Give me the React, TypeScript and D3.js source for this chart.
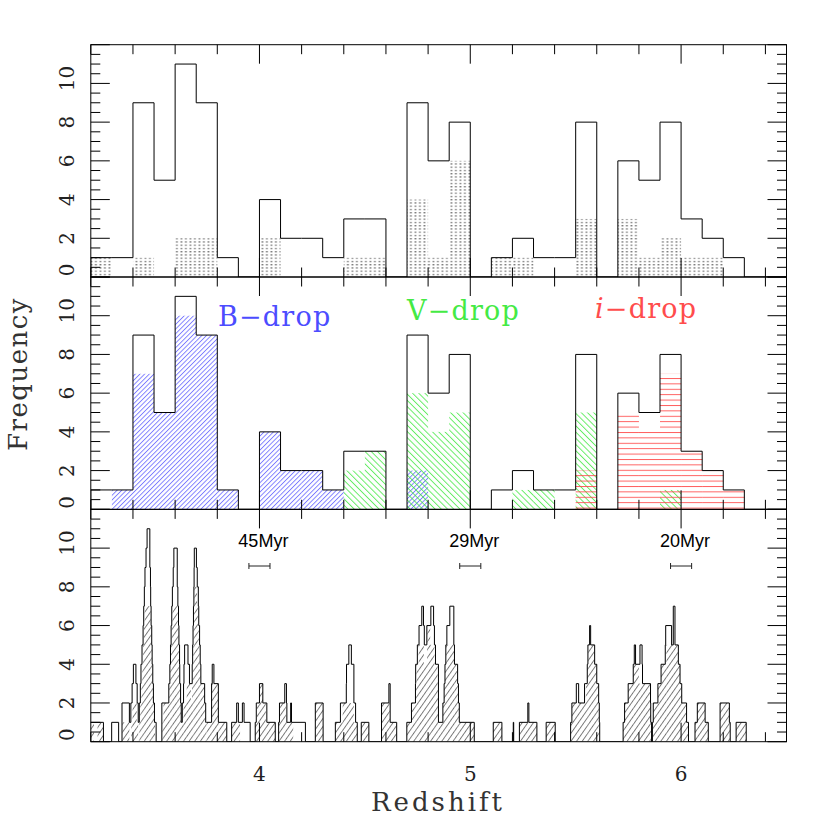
import React from 'react';
import * as d3 from 'd3';

// ---------- DATA ----------
const BIN_START = 3.2;
const BIN_WIDTH = 0.1;
// total counts per 0.1 bin starting at z = 3.2
const totalCounts = [1, 1, 9, 5, 11, 9, 1, 0, 4, 2, 2, 1, 3, 3, 0, 9, 6, 8, 0, 1, 2, 1, 1, 8, 0, 6, 5, 8, 3, 2, 1, 0, 0];
const dottedCounts = [1, 0, 1, 0, 2, 2, 0, 0, 2, 0, 0, 0, 1, 1, 0, 4, 1, 6, 0, 1, 1, 0, 0, 3, 0, 3, 1, 2, 1, 1, 0, 0, 0];
const bDropCounts = [0, 1, 7, 5, 10, 9, 1, 0, 4, 2, 2, 1, 0, 0, 0, 2, 0, 0, 0, 0, 0, 0, 0, 0, 0, 0, 0, 0, 0, 0, 0, 0, 0];
const vDropCounts = [0, 0, 0, 0, 0, 0, 0, 0, 0, 0, 0, 0, 2, 3, 0, 6, 4, 5, 0, 0, 1, 1, 0, 5, 0, 0, 0, 1, 0, 0, 0, 0, 0];
const iDropCounts = [0, 0, 0, 0, 0, 0, 0, 0, 0, 0, 0, 0, 0, 0, 0, 0, 0, 0, 0, 0, 0, 0, 0, 2, 0, 5, 4, 7, 3, 2, 1, 0, 0];

// bottom panel: each band [z0, z1] adds one count over its range
const bottomTotalBands: [number, number][] = [
  [3.19, 3.26], [3.299, 3.332],
  [3.348, 3.51], [3.348, 3.383], [3.39, 3.425], [3.396, 3.42], [3.402, 3.414],
  [3.43, 3.502], [3.435, 3.497], [3.438, 3.494], [3.443, 3.491], [3.448, 3.489],
  [3.451, 3.486], [3.454, 3.484], [3.457, 3.483], [3.462, 3.48], [3.467, 3.48],
  [3.537, 3.749], [3.537, 3.629], [3.634, 3.745], [3.57, 3.626], [3.64, 3.74],
  [3.575, 3.622], [3.642, 3.668], [3.681, 3.722], [3.578, 3.621], [3.645, 3.661], [3.683, 3.719],
  [3.581, 3.618], [3.685, 3.716], [3.584, 3.616], [3.687, 3.712], [3.587, 3.613], [3.689, 3.71],
  [3.591, 3.61], [3.69, 3.705], [3.594, 3.61], [3.691, 3.701],
  [3.749, 3.845], [3.773, 3.805], [3.773, 3.805], [3.776, 3.784],
  [3.868, 3.956], [3.892, 3.9], [3.919, 3.927],
  [3.98, 4.075], [3.985, 4.035], [4.0, 4.016],
  [4.091, 4.218], [4.095, 4.13], [4.12, 4.128], [4.148, 4.152],
  [4.265, 4.302], [4.265, 4.302],
  [4.36, 4.464], [4.384, 4.456], [4.412, 4.448], [4.413, 4.448], [4.424, 4.436],
  [4.483, 4.519],
  [4.579, 4.651], [4.579, 4.62], [4.614, 4.62],
  [4.699, 5.019], [4.721, 4.849], [4.87, 4.948], [4.74, 4.849], [4.876, 4.944],
  [4.741, 4.849], [4.88, 4.94], [4.749, 4.835], [4.884, 4.925],
  [4.757, 4.782], [4.794, 4.83], [4.889, 4.922], [4.77, 4.778], [4.813, 4.826], [4.903, 4.922],
  [5.109, 5.15], [5.204, 5.206], [5.233, 5.316], [5.273, 5.278], [5.36, 5.403],
  [5.476, 5.614], [5.482, 5.612], [5.503, 5.514], [5.542, 5.609], [5.555, 5.6], [5.558, 5.59], [5.566, 5.571],
  [5.725, 5.86], [5.732, 5.856], [5.749, 5.855], [5.773, 5.817], [5.778, 5.784], [5.805, 5.815],
  [5.864, 6.035], [5.868, 6.026], [5.89, 6.003], [5.905, 5.995], [5.925, 5.987],
  [5.927, 5.955], [5.963, 5.971], [5.963, 5.971],
  [6.066, 6.129], [6.077, 6.114],
  [6.185, 6.233], [6.185, 6.229],
  [6.261, 6.309],
];
const bottomHatchBands: [number, number][] = [
  [3.197, 3.215], [3.232, 3.259],
  [3.35, 3.383], [3.392, 3.425], [3.398, 3.418],
  [3.43, 3.505], [3.435, 3.5], [3.44, 3.495], [3.445, 3.492], [3.448, 3.489], [3.452, 3.487], [3.456, 3.484],
  [3.54, 3.632], [3.545, 3.628], [3.572, 3.625], [3.577, 3.621], [3.58, 3.619], [3.584, 3.616], [3.588, 3.612],
  [3.632, 3.68], [3.64, 3.68], [3.655, 3.675],
  [3.68, 3.749], [3.68, 3.745], [3.68, 3.74], [3.683, 3.72], [3.686, 3.716], [3.688, 3.712], [3.69, 3.708], [3.692, 3.704],
  [3.751, 3.845], [3.773, 3.805], [3.773, 3.805],
  [3.868, 3.908],
  [3.98, 4.075], [3.988, 4.03], [4.0, 4.016],
  [4.091, 4.16], [4.095, 4.125],
  [4.265, 4.302], [4.265, 4.302],
  [4.36, 4.464], [4.395, 4.448],
  [4.483, 4.519],
  [4.579, 4.651], [4.579, 4.618],
  [4.699, 5.019], [4.721, 4.849], [4.87, 4.948], [4.74, 4.849], [4.876, 4.944],
  [4.745, 4.845], [4.88, 4.94], [4.755, 4.78], [4.795, 4.83], [4.886, 4.924], [4.797, 4.81],
  [5.109, 5.15], [5.233, 5.316], [5.36, 5.403],
  [5.476, 5.614], [5.482, 5.612], [5.548, 5.608], [5.556, 5.6], [5.56, 5.588],
  [5.725, 5.86], [5.732, 5.856], [5.749, 5.855], [5.773, 5.8],
  [5.864, 6.035], [5.868, 6.026], [5.89, 6.003], [5.905, 5.995], [5.93, 5.985],
  [6.066, 6.129], [6.077, 6.114],
  [6.185, 6.233], [6.185, 6.229],
  [6.261, 6.309],
];

const yTickLabels = [0, 2, 4, 6, 8, 10];
const xTickLabels = [4, 5, 6];
const ageLabels = ['45Myr', '29Myr', '20Myr'];
const ageCenters = [4.0, 5.0, 6.0];
const ageHalfWidth = 0.05;
const dropLabels = ['B\u2212drop', 'V\u2212drop', 'i\u2212drop'];

// ---------- LAYOUT ----------
const X0 = 90.8;
const X1 = 786.5;
const PANEL_TOPS = [44.7, 277.0, 509.4];
const PANEL_H = 232.3;
const MAJOR = 19;
const MINOR = 9.5;
const SERIF = '"DejaVu Serif", serif';

const x = d3.scaleLinear().domain([3.2, 6.5]).range([X0, X1]);
const yScale = (top: number) => d3.scaleLinear().domain([0, 12]).range([top + PANEL_H, top]);

function binStepPath(counts: number[], y: d3.ScaleLinear<number, number>) {
  const p = d3.path();
  p.moveTo(x(BIN_START), y(0));
  counts.forEach((c, i) => {
    const z0 = BIN_START + i * BIN_WIDTH;
    p.lineTo(x(z0), y(c));
    p.lineTo(x(z0 + BIN_WIDTH), y(c));
  });
  p.lineTo(x(BIN_START + counts.length * BIN_WIDTH), y(0));
  return p.toString();
}

function bandsToSteps(bands: [number, number][]) {
  const edges = Array.from(new Set(bands.flat())).sort((a, b) => a - b);
  const steps: [number, number, number][] = [];
  for (let i = 0; i < edges.length - 1; i++) {
    const a = edges[i], b = edges[i + 1], m = (a + b) / 2;
    const c = bands.filter(([s, e]) => s < m && e > m).length;
    steps.push([a, b, c]);
  }
  return steps;
}

function stepsPath(steps: [number, number, number][], y: d3.ScaleLinear<number, number>) {
  const p = d3.path();
  p.moveTo(x(steps[0][0]), y(0));
  steps.forEach(([a, b, c]) => {
    p.lineTo(x(a), y(c));
    p.lineTo(x(b), y(c));
  });
  p.lineTo(x(steps[steps.length - 1][1]), y(0));
  return p.toString();
}

function BinRects({ counts, y, fill }: { counts: number[]; y: d3.ScaleLinear<number, number>; fill: string }) {
  return (
    <g>
      {counts.map((c, i) =>
        c > 0 ? (
          <rect
            key={i}
            x={x(BIN_START + i * BIN_WIDTH)}
            y={y(c)}
            width={x(BIN_START + (i + 1) * BIN_WIDTH) - x(BIN_START + i * BIN_WIDTH)}
            height={y(0) - y(c)}
            fill={fill}
          />
        ) : null
      )}
    </g>
  );
}

function Frame({ top }: { top: number }) {
  const y = yScale(top);
  const bottom = top + PANEL_H;
  const xMinor = d3.range(3.2, 6.5001, 0.2).map((v) => +v.toFixed(2));
  const yMinor = d3.range(0, 12.001, 0.5);
  const lines: JSX.Element[] = [];
  xMinor.forEach((v, i) => {
    const isMajor = Math.abs(v - Math.round(v)) < 1e-6;
    const len = isMajor ? MAJOR : MINOR;
    const xx = x(v);
    lines.push(<line key={'xb' + i} x1={xx} x2={xx} y1={bottom} y2={bottom - len} />);
    lines.push(<line key={'xt' + i} x1={xx} x2={xx} y1={top} y2={top + len} />);
  });
  yMinor.forEach((v, i) => {
    const isMajor = v % 2 === 0;
    const len = isMajor ? MAJOR : MINOR;
    const yy = y(v);
    lines.push(<line key={'yl' + i} x1={X0} x2={X0 + len} y1={yy} y2={yy} />);
    lines.push(<line key={'yr' + i} x1={X1} x2={X1 - len} y1={yy} y2={yy} />);
  });
  return (
    <g stroke="#000" strokeWidth={1} fill="none">
      <rect x={X0} y={top} width={X1 - X0} height={PANEL_H} />
      {lines}
    </g>
  );
}

function YLabels({ top }: { top: number }) {
  const y = yScale(top);
  return (
    <g fontFamily={SERIF} fontSize={20} fill="#222">
      {yTickLabels.map((v) => {
        const yy = y(v) - (v === 0 ? 7 : v === 10 ? 5 : 0);
        return (
          <text key={v} transform={`translate(74,${yy}) rotate(-90)`} textAnchor="middle">
            {v}
          </text>
        );
      })}
    </g>
  );
}

export default function App() {
  const yTop = yScale(PANEL_TOPS[0]);
  const yMid = yScale(PANEL_TOPS[1]);
  const yBot = yScale(PANEL_TOPS[2]);
  const totalSteps = bandsToSteps(bottomTotalBands);
  const hatchSteps = bandsToSteps(bottomHatchBands);

  return (
    <svg
      width={830}
      height={830}
      style={{ position: 'absolute', left: 0, top: 0, background: '#fff' }}
      xmlns="http://www.w3.org/2000/svg"
    >
      <defs>
        <pattern id="dots" patternUnits="userSpaceOnUse" width={4.5} height={3.25}>
          <rect x={0.5} y={1} width={1.8} height={1} fill="#4a4a4a" />
        </pattern>
        <pattern id="bhatch" patternUnits="userSpaceOnUse" width={3.3} height={10} patternTransform="rotate(45)">
          <line x1={0.5} y1={0} x2={0.5} y2={10} stroke="#4040ff" strokeWidth={0.7} />
        </pattern>
        <pattern id="vhatch" patternUnits="userSpaceOnUse" width={4.4} height={10} patternTransform="rotate(-45)">
          <line x1={0.5} y1={0} x2={0.5} y2={10} stroke="#38e838" strokeWidth={0.8} />
        </pattern>
        <pattern id="ihatch" patternUnits="userSpaceOnUse" width={10} height={5.4}>
          <line x1={0} y1={0.5} x2={10} y2={0.5} stroke="#ff4848" strokeWidth={0.9} />
        </pattern>
        <pattern id="khatch" patternUnits="userSpaceOnUse" width={4.6} height={10} patternTransform="rotate(35)">
          <line x1={0.5} y1={0} x2={0.5} y2={10} stroke="#3a3a3a" strokeWidth={0.7} />
        </pattern>
        {PANEL_TOPS.map((t, i) => (
          <clipPath id={'clip' + i} key={i}>
            <rect x={X0} y={t} width={X1 - X0} height={PANEL_H} />
          </clipPath>
        ))}
      </defs>

      {/* top panel */}
      <g clipPath="url(#clip0)">
        <BinRects counts={dottedCounts} y={yTop} fill="url(#dots)" />
        <path d={binStepPath(totalCounts, yTop)} fill="none" stroke="#000" strokeWidth={1} />
      </g>

      {/* middle panel */}
      <g clipPath="url(#clip1)">
        <BinRects counts={bDropCounts} y={yMid} fill="url(#bhatch)" />
        <BinRects counts={vDropCounts} y={yMid} fill="url(#vhatch)" />
        <BinRects counts={iDropCounts} y={yMid} fill="url(#ihatch)" />
        <path d={binStepPath(totalCounts, yMid)} fill="none" stroke="#000" strokeWidth={1} />
      </g>
      <g fontFamily={SERIF} fontSize={27} letterSpacing={1.2}>
        <text x={218} y={326} fill="#4c4cff">{dropLabels[0]}</text>
        <text x={407} y={320} fill="#44ea44">{dropLabels[1]}</text>
        <text x={595} y={318} fill="#ff4c4c">
          <tspan fontStyle="italic">{dropLabels[2].slice(0, 1)}</tspan>
          {dropLabels[2].slice(1)}
        </text>
      </g>

      {/* bottom panel */}
      <g clipPath="url(#clip2)">
        {hatchSteps.map(([a, b, c], i) =>
          c > 0 ? (
            <rect key={i} x={x(a)} y={yBot(c)} width={x(b) - x(a)} height={yBot(0) - yBot(c)} fill="url(#khatch)" />
          ) : null
        )}
        <path d={stepsPath(totalSteps, yBot)} fill="none" stroke="#000" strokeWidth={1} />
      </g>
      <g>
        {ageLabels.map((lab, i) => {
          const c = ageCenters[i];
          const yy = 566;
          return (
            <g key={lab}>
              <text x={x(c - 0.1)} y={547} fontFamily='"Liberation Sans", Arial, sans-serif' fontSize={18} fill="#000">
                {lab}
              </text>
              <g stroke="#222" strokeWidth={1}>
                <line x1={x(c - ageHalfWidth)} x2={x(c + ageHalfWidth)} y1={yy} y2={yy} />
                <line x1={x(c - ageHalfWidth)} x2={x(c - ageHalfWidth)} y1={yy - 3} y2={yy + 3} />
                <line x1={x(c + ageHalfWidth)} x2={x(c + ageHalfWidth)} y1={yy - 3} y2={yy + 3} />
              </g>
            </g>
          );
        })}
      </g>

      {PANEL_TOPS.map((t) => (
        <Frame key={t} top={t} />
      ))}
      {PANEL_TOPS.map((t) => (
        <YLabels key={'l' + t} top={t} />
      ))}

      <g fontFamily={SERIF} fontSize={20} fill="#222" textAnchor="middle">
        {xTickLabels.map((v) => (
          <text key={v} x={x(v)} y={781}>
            {v}
          </text>
        ))}
      </g>
      <text x={438} y={811} textAnchor="middle" fontFamily={SERIF} fontSize={26} letterSpacing={3} fill="#333">
        Redshift
      </text>
      <text
        transform="translate(27,374) rotate(-90)"
        textAnchor="middle"
        fontFamily={SERIF}
        fontSize={26}
        letterSpacing={1.5}
        fill="#333"
      >
        Frequency
      </text>
    </svg>
  );
}
